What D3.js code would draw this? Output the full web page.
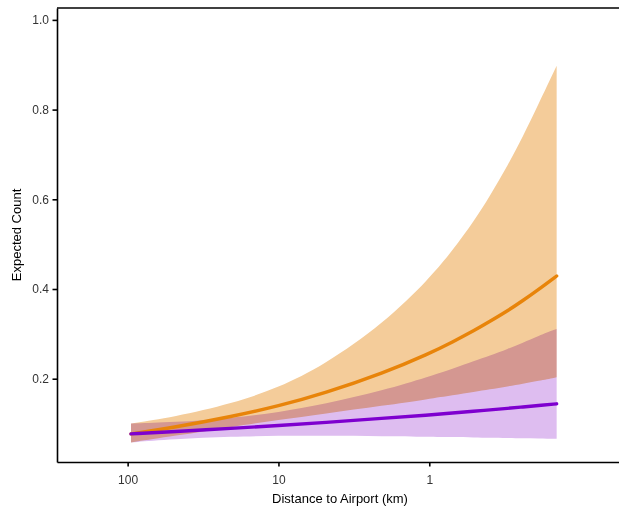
<!DOCTYPE html>
<html>
<head>
<meta charset="utf-8">
<script src="https://cdn.jsdelivr.net/npm/d3@7"></script>
<style>
  html, body { margin: 0; padding: 0; background: #ffffff; }
  svg { display: block; }
  text { font-family: "Liberation Sans", Arial, Helvetica, sans-serif; }
</style>
</head>
<body>
<svg id="chart" width="619" height="510"></svg>
<script>
// ---- data ----
const distanceKm   = [95, 50, 20, 10, 5, 2, 1, 0.7, 0.5, 0.4, 0.3, 0.24, 0.19, 0.143];
const orangeMean   = [0.077, 0.091, 0.116, 0.139, 0.167, 0.213, 0.256, 0.282, 0.308, 0.327, 0.352, 0.374, 0.398, 0.429];
const orangeLower  = [0.058, 0.072, 0.093, 0.108, 0.122, 0.140, 0.155, 0.163, 0.171, 0.176, 0.183, 0.189, 0.195, 0.203];
const orangeUpper  = [0.100, 0.114, 0.145, 0.180, 0.230, 0.324, 0.423, 0.486, 0.554, 0.605, 0.677, 0.739, 0.810, 0.898];
const purpleMean   = [0.077, 0.082, 0.0895, 0.0956, 0.102, 0.112, 0.119, 0.1236, 0.1276, 0.1304, 0.1341, 0.137, 0.140, 0.144];
const purpleLower  = [0.058, 0.065, 0.071, 0.073, 0.073, 0.072, 0.0705, 0.070, 0.069, 0.0685, 0.068, 0.067, 0.0667, 0.066];
const purpleUpper  = [0.100, 0.103, 0.112, 0.125, 0.143, 0.174, 0.205, 0.222, 0.240, 0.251, 0.267, 0.280, 0.295, 0.311];
const xTicks = [100, 10, 1];
const yTicks = [0.2, 0.4, 0.6, 0.8, 1.0];
const xTitle = "Distance to Airport (km)";
const yTitle = "Expected Count";

// ---- layout ----
const svg = d3.select("#chart");
const mLeft = 57, mRight = 619, mTop = 8, mBottom = 462;

const x = d3.scaleLog().domain([294, 0.0552]).range([mLeft, mRight]);
const y = d3.scaleLinear().domain([0.0143, 1.0265]).range([mBottom, mTop]);

const rows = distanceKm.map((d, i) => ({
  d, om: orangeMean[i], ol: orangeLower[i], ou: orangeUpper[i],
  pm: purpleMean[i], pl: purpleLower[i], pu: purpleUpper[i]
}));

const curve = d3.curveBasis;
const band = (lo, hi) => d3.area().x(r => x(r.d)).y0(r => y(r[lo])).y1(r => y(r[hi])).curve(curve);
const line = key => d3.line().x(r => x(r.d)).y(r => y(r[key])).curve(curve);

const g = svg.append("g");
g.append("path").attr("d", band("ol", "ou")(rows)).attr("fill", "#F4CC9A");
g.append("path").attr("d", band("pl", "pu")(rows)).attr("fill", "#DEBDF0")
  .style("mix-blend-mode", "multiply");
g.append("path").attr("d", line("om")(rows)).attr("fill", "none")
  .attr("stroke", "#E8840A").attr("stroke-width", 3.4).attr("stroke-linecap", "round");
g.append("path").attr("d", line("pm")(rows)).attr("fill", "none")
  .attr("stroke", "#7E00CF").attr("stroke-width", 3.4).attr("stroke-linecap", "round");

// ---- axes ----
const yAxis = d3.axisLeft(y).tickValues(yTicks).tickFormat(d3.format(".1f"))
  .tickSizeInner(4.5).tickSizeOuter(0).tickPadding(3.5);
const xAxis = d3.axisBottom(x).tickValues(xTicks).tickFormat(d3.format("~g"))
  .tickSizeInner(4.5).tickSizeOuter(0).tickPadding(8.5);

const ga = svg.append("g").attr("transform", `translate(${mLeft},0)`).call(yAxis);
const gb = svg.append("g").attr("transform", `translate(0,${mBottom})`).call(xAxis);
[ga, gb].forEach(a => {
  a.selectAll(".domain").attr("stroke", "#000").attr("stroke-width", 1.6);
  a.selectAll(".tick line").attr("stroke", "#000").attr("stroke-width", 1.6);
  a.selectAll(".tick text").attr("fill", "#333333").style("font-size", "12px")
    .style("font-family", "'Liberation Sans', Arial, sans-serif");
});
// top border line
svg.append("line").attr("x1", mLeft).attr("x2", mRight).attr("y1", mTop).attr("y2", mTop)
  .attr("stroke", "#000").attr("stroke-width", 1.6);

// ---- titles ----
svg.append("text").attr("x", 340).attr("y", 503).attr("text-anchor", "middle")
  .style("font-size", "13px").attr("fill", "#000").text(xTitle);
svg.append("text").attr("transform", `translate(20.5,${(mTop + mBottom) / 2}) rotate(-90)`)
  .attr("text-anchor", "middle").style("font-size", "13px").attr("fill", "#000").text(yTitle);
</script>
</body>
</html>
